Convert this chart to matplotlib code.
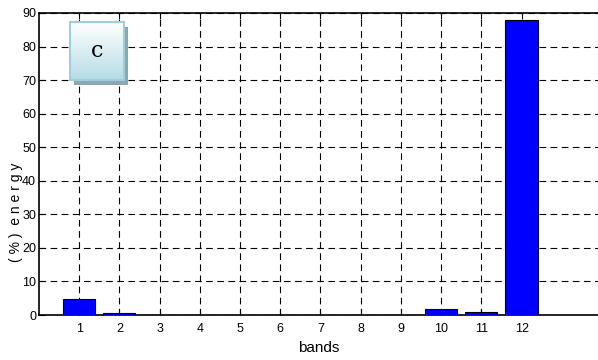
import numpy as np
import matplotlib.pyplot as plt
from matplotlib.colors import LinearSegmentedColormap
from matplotlib.patches import Rectangle

bands = np.arange(1, 13)
energy = [4.7, 0.6, 0.1, 0.1, 0.1, 0.1, 0.1, 0.1, 0.1, 1.8, 0.8, 87.8]
yticks = [0, 10, 20, 30, 40, 50, 60, 70, 80, 90]

plt.rcParams['font.family'] = ['Liberation Sans Narrow', 'Liberation Sans', 'DejaVu Sans']

fig = plt.figure(figsize=(5.98, 3.6), dpi=100)
ax = fig.add_axes([0.065, 0.125, 0.935, 0.839])

ax.bar(bands, energy, width=0.8, color='#0000ff', edgecolor='black', linewidth=0.8, zorder=3)

ax.set_xticks(bands)
ax.set_yticks(yticks)
ax.tick_params(direction='in', top=True, labelsize=9, length=4, pad=6)
ax.tick_params(axis='y', pad=2)
ax.grid(True, color='black', linestyle=(0, (6, 4)), linewidth=0.8, zorder=0)
ax.set_axisbelow(True)

for s in ['left', 'bottom', 'top']:
    ax.spines[s].set_linewidth(1.2)
ax.spines['right'].set_visible(False)

ax.set_xlabel('bands', fontsize=11, labelpad=4)
ax.set_ylabel('( % )  e n e r g y', fontsize=10)
ax.yaxis.set_label_coords(-0.028, 0.34)

# panel label box: shadow, gradient fill, border
ax.add_patch(Rectangle((0.062, 0.763), 0.098, 0.192, transform=ax.transAxes,
                       facecolor='#8fa6ad', edgecolor='none', zorder=4))
grad = np.linspace(0, 1, 64).reshape(-1, 1)
box_cmap = LinearSegmentedColormap.from_list('box', ['#ffffff', '#b5dde6'])
ax.imshow(grad, cmap=box_cmap, aspect='auto', zorder=5, origin='upper',
          extent=(0.055, 0.153, 0.778, 0.970), transform=ax.transAxes)
ax.add_patch(Rectangle((0.055, 0.778), 0.098, 0.192, transform=ax.transAxes,
                       facecolor='none', edgecolor='#9dd0dc', linewidth=1.5, zorder=6))
ax.text(0.104, 0.874, 'c', transform=ax.transAxes, fontsize=16, family='DejaVu Serif',
        ha='center', va='center', zorder=7)

ax.set_xlim(0, 13.9)
ax.set_ylim(0, 90)

fig.savefig('out.png', dpi=100)
